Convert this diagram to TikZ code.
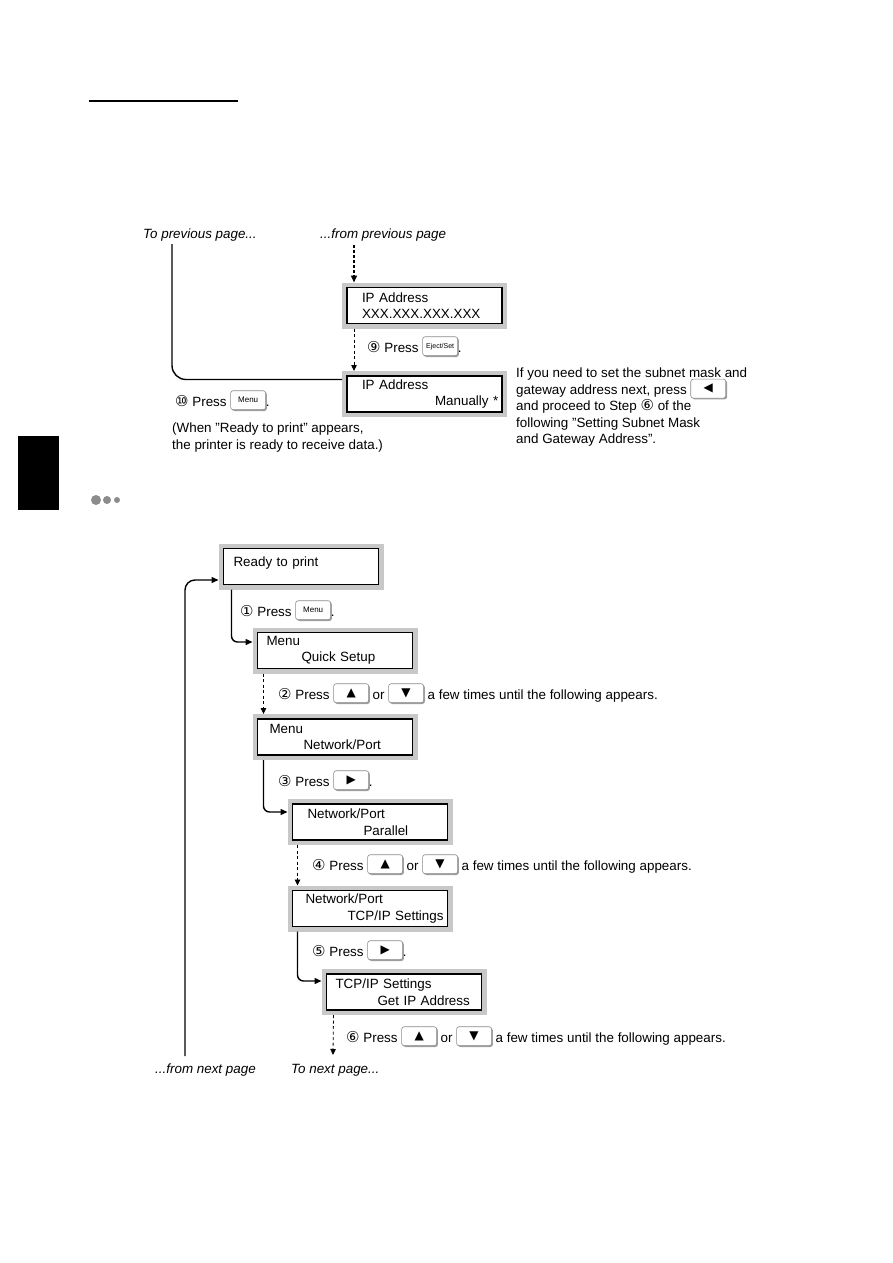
\documentclass[tikz,border=0pt]{standalone}
\usepackage{fontspec}
\setmainfont{Liberation Sans}
\newfontfamily\dejavu{DejaVu Sans}
\usetikzlibrary{arrows.meta,positioning,shadows}
\definecolor{lcdFrame}{HTML}{C8C8C8}
\definecolor{keyEdge}{HTML}{8A8A8A}
\definecolor{keyShade}{HTML}{A0A0A0}
\definecolor{dotGray}{HTML}{8C8C8C}

\newcommand{\mainsize}{\fontsize{13.4}{16.5}\selectfont\hyphenpenalty=10000 }
\newcommand{\keyfont}{\fontsize{8}{9}\selectfont}
\newcommand{\circnum}[1]{{\dejavu\fontsize{15}{16}\selectfont #1}}

\tikzset{
  keybox/.style={anchor=center, text width={}, align=center, draw=keyEdge, fill=white,
    rounded corners=2.5pt, line width=0.6pt, minimum width=35pt, minimum height=19pt,
    inner sep=1pt, general shadow={fill=keyShade, shadow xshift=1.3pt, shadow yshift=-1.3pt}}
}
\newcommand{\keycap}[2][\keyfont]{\smash{\tikz[baseline={([yshift=4pt]k.south)}]\node[keybox,font=#1] (k) {#2};}}
\newcommand{\arrowkey}[1]{\keycap[\dejavu\fontsize{12}{12}\selectfont]{#1}}

\begin{document}
\begin{tikzpicture}[x=1pt,y=-1pt,
    lcd/.style={draw=black, line width=1.3pt, fill=white,
      preaction={draw=lcdFrame, line width=10pt},
      minimum height=36pt, text width=155pt, inner xsep=0pt, inner ysep=0pt,
      align=left, outer sep=5pt, font=\mainsize},
    steptext/.style={anchor=base west, inner sep=0pt, font=\mainsize},
    pagelabel/.style={anchor=base west, inner sep=0pt, font=\mainsize\itshape},
    notetext/.style={anchor=north west, inner sep=0pt, align=left, font=\mainsize},
    flow/.style={-{Triangle[length=7pt,width=6pt]}, line width=1.4pt},
    plainline/.style={line width=1.4pt},
    dashflow/.style={-{Triangle[length=6pt,width=5.5pt]}, line width=0.8pt, dash pattern=on 3pt off 2.5pt},
    dotflow/.style={-{Triangle[length=7pt,width=6pt]}, line width=2.2pt, dash pattern=on 2.5pt off 2.5pt}
  ]
  \useasboundingbox (0,0) rectangle (893,1263);

  % page marks
  \draw[line width=1.5pt] (89,101) -- (238,101);
  \fill (18,436) rectangle (59,510);
  \fill[dotGray] (96,500) circle (5) (107,500) circle (4) (117,500) circle (3);

  % ---- manual IP address (end) ----
  \node[pagelabel] (toprev) at (143,238) {To previous page...};
  \node[pagelabel] (fromprev) at (320,238) {...from previous page};
  \coordinate (tpline) at (172,244);
  \coordinate (fpline) at (354,245);

  \node[lcd] (ip1) at (424.5,305.5) {\hspace*{15pt}IP Address\\\hspace*{15pt}XXX.XXX.XXX.XXX};
  \node[lcd] (ip2) at (424.5,394) {\hspace*{15pt}IP Address\\\hspace*{88pt}Manually *};

  \node[steptext] (s9) at (367,352) {\circnum{⑨} Press \keycap[\fontsize{7}{8}\selectfont]{Eject/Set}.};
  \node[steptext] (s10) at (175,406) {\circnum{⑩} Press \keycap{Menu}.};
  \node[notetext] (note10) at (172,423) {(When "Ready to print" appears,\\the printer is ready to receive data.)};
  \node[notetext] (ipnote) at (516,368) {If you need to set the subnet mask and\\
    gateway address next, press \arrowkey{◀}\\
    and proceed to Step \circnum{⑥} of the\\
    following "Setting Subnet Mask\\
    and Gateway Address".};

  \draw[dotflow] (fpline) -- (fpline |- ip1.north);
  \draw[dashflow] ([xshift=12pt]ip1.south west) -- ([xshift=12pt]ip2.north west);
  \draw[plainline, rounded corners=14pt] (tpline) |- ([yshift=-8.5pt]ip2.north west);

  % ---- menu sequence ----
  \node[lcd] (rdy) at (301,566.5) {\hspace*{10pt}Ready to print\\[-6pt]\mbox{}};
  \node[lcd] (menu1) at (335,650.5) {\hspace*{9pt}Menu\\\hspace*{44pt}Quick Setup};
  \node[lcd] (menu2) at (335,737) {\hspace*{12pt}Menu\\\hspace*{46pt}Network/Port};
  \node[lcd] (np1) at (370,822) {\hspace*{15pt}Network/Port\\\hspace*{71pt}Parallel};
  \node[lcd] (np2) at (370,908.5) {\hspace*{13pt}Network/Port\\\hspace*{55pt}TCP/IP Settings};
  \node[lcd] (tcp) at (404,992) {\hspace*{9pt}TCP/IP Settings\\\hspace*{51pt}Get IP Address};

  \node[steptext] (s1) at (240,616) {\circnum{①} Press \keycap{Menu}.};
  \node[steptext] (s2) at (278,699) {\circnum{②} Press \arrowkey{▲} or \arrowkey{▼} a few times until the following appears.};
  \node[steptext] (s3) at (278,786) {\circnum{③} Press \arrowkey{▶}.};
  \node[steptext] (s4) at (312,870) {\circnum{④} Press \arrowkey{▲} or \arrowkey{▼} a few times until the following appears.};
  \node[steptext] (s5) at (312,956) {\circnum{⑤} Press \arrowkey{▶}.};
  \node[steptext] (s6) at (346,1042) {\circnum{⑥} Press \arrowkey{▲} or \arrowkey{▼} a few times until the following appears.};

  \node[pagelabel] (fromnext) at (155,1073) {...from next page};
  \node[pagelabel] (tonext) at (291,1073) {To next page...};
  \coordinate (fnline) at (185,1056);
  \coordinate (tnline) at (333,1055);

  \draw[flow, rounded corners=6pt] ([xshift=13pt]rdy.south west) |- ([yshift=8.5pt]menu1.west);
  \draw[dashflow] ([xshift=11pt]menu1.south west) -- ([xshift=11pt]menu2.north west);
  \draw[flow, rounded corners=6pt] ([xshift=11pt]menu2.south west) |- ([yshift=10pt]np1.west);
  \draw[dashflow] ([xshift=10pt]np1.south west) -- ([xshift=10pt]np2.north west);
  \draw[flow, rounded corners=6pt] ([xshift=10pt]np2.south west) |- ([yshift=11pt]tcp.west);
  \draw[dashflow] ([xshift=12pt]tcp.south west) -- (tnline);
  \draw[flow, rounded corners=10pt] (fnline) |- ([yshift=-13.5pt]rdy.west);
\end{tikzpicture}
\end{document}
